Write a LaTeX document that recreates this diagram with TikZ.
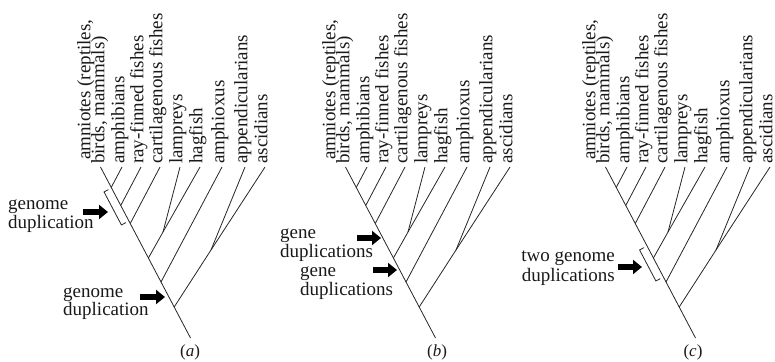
\documentclass[tikz,border=0pt]{standalone}
\usepackage{fontspec}
\setmainfont{Liberation Serif}
\usetikzlibrary{arrows.meta}
\tikzset{
  branch/.style={line width=0.8pt, draw=black!85},
  leaflbl/.style={rotate=90, anchor=mid west, inner sep=0pt, text=black!90, font=\fontsize{19}{19}\selectfont},
  notew/.style={anchor=base west, inner sep=0pt, text=black!90, font=\fontsize{19}{19}\selectfont},
  notee/.style={anchor=base east, inner sep=0pt, text=black!90, font=\fontsize{19}{19}\selectfont},
  fatarrow/.style={line width=6.5pt, draw=black, -{Triangle[length=9pt,width=14pt]}},
  dupbracket/.style={line width=0.8pt, draw=black!85},
  panellbl/.style={inner sep=0pt, text=black!90, font=\fontsize{17}{17}\selectfont}
}
\newcommand\phylotree[1]{%
  \coordinate (#1t1) at (100.5,167);
  \coordinate (#1t2) at (122,167);
  \coordinate (#1t3) at (141,167);
  \coordinate (#1t4) at (160,167);
  \coordinate (#1t5) at (180,167);
  \coordinate (#1t6) at (200,167);
  \coordinate (#1t7) at (222,167);
  \coordinate (#1t8) at (245,167);
  \coordinate (#1t9) at (265,167);
  \coordinate (#1j2) at (111.25,187.4);
  \coordinate (#1j3) at (120.75,205.5);
  \coordinate (#1j4) at (130.25,223.5);
  \coordinate (#1j56) at (163,232);
  \coordinate (#1j6) at (148.4,258);
  \coordinate (#1j7) at (161,282);
  \coordinate (#1j89) at (211,250);
  \coordinate (#1j9) at (174.2,307);
  \coordinate (#1root) at (190.5,338);
  \node[leaflbl] (#1l0) at (88,160) {amniotes (reptiles,};
  \node[leaflbl] (#1l1) at (102,164) {birds, mammals)};
  \node[leaflbl] (#1l2) at (122,164) {amphibians};
  \node[leaflbl] (#1l3) at (141,164) {ray-finned fishes};
  \node[leaflbl] (#1l4) at (160,164) {cartilagenous fishes};
  \node[leaflbl] (#1l5) at (180,164) {lampreys};
  \node[leaflbl] (#1l6) at (200,164) {hagfish};
  \node[leaflbl] (#1l7) at (222,164) {amphioxus};
  \node[leaflbl] (#1l8) at (245,164) {appendicularians};
  \node[leaflbl] (#1l9) at (265,164) {ascidians};
  \draw[branch] (#1t1) -- (#1root);
  \draw[branch] (#1t2) -- (#1j2);
  \draw[branch] (#1t3) -- (#1j3);
  \draw[branch] (#1t4) -- (#1j4);
  \draw[branch] (#1t5) -- (#1j56);
  \draw[branch] (#1t6) -- (#1j56) -- (#1j6);
  \draw[branch] (#1t7) -- (#1j7);
  \draw[branch] (#1t8) -- (#1j89);
  \draw[branch] (#1t9) -- (#1j89) -- (#1j9);
}
\begin{document}
\begin{tikzpicture}[x=1pt,y=-1pt]
\useasboundingbox (0,0) rectangle (775,361);
\begin{scope}\phylotree{a}\end{scope}
\begin{scope}[xshift=245pt]\phylotree{b}\end{scope}
\begin{scope}[xshift=505pt]\phylotree{c}\end{scope}
% panel (a)
\coordinate (ab1) at (108.45,189.63);
\coordinate (ab2) at (104.03,191.96);
\coordinate (ab3) at (121.40,224.96);
\coordinate (ab4) at (125.82,222.63);
\draw[dupbracket] (ab1) -- (ab2) -- (ab3) -- (ab4);
\node[notew] (ag1) at (8,209) {genome};
\node[notew] (ag2) at (8,228) {duplication};
\coordinate (aa1s) at (83,212);
\coordinate (aa1e) at (108,212);
\draw[fatarrow] (aa1s) -- (aa1e);
\node[notew] (ag3) at (63,297) {genome};
\node[notew] (ag4) at (63,315) {duplication};
\coordinate (aa2s) at (140,297);
\coordinate (aa2e) at (165,297);
\draw[fatarrow] (aa2s) -- (aa2e);
\node[panellbl] (pa) at (190,352) {(\textit{a})};
% panel (b)
\node[notew] (bg1) at (280,238) {gene};
\node[notew] (bg2) at (280,257) {duplications};
\coordinate (ba1s) at (357,238);
\coordinate (ba1e) at (381,238);
\draw[fatarrow] (ba1s) -- (ba1e);
\node[notew] (bg3) at (300,276) {gene};
\node[notew] (bg4) at (300,295) {duplications};
\coordinate (ba2s) at (373,270);
\coordinate (ba2e) at (397,270);
\draw[fatarrow] (ba2s) -- (ba2e);
\node[panellbl] (pb) at (437,352) {(\textit{b})};
% panel (c)
\coordinate (cb1) at (643.98,247.63);
\coordinate (cb2) at (639.56,249.96);
\coordinate (cb3) at (655.87,280.96);
\coordinate (cb4) at (660.29,278.63);
\draw[dupbracket] (cb1) -- (cb2) -- (cb3) -- (cb4);
\node[notee] (cg1) at (615,261) {two genome};
\node[notee] (cg2) at (615,281) {duplications};
\coordinate (ca1s) at (618,267);
\coordinate (ca1e) at (642,267);
\draw[fatarrow] (ca1s) -- (ca1e);
\node[panellbl] (pc) at (693,352) {(\textit{c})};
\end{tikzpicture}
\end{document}
